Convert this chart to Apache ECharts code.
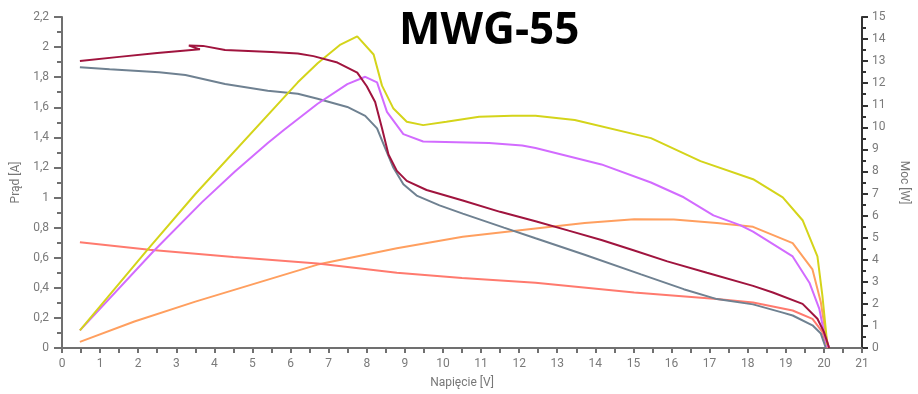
<!DOCTYPE html>
<html>
<head>
<meta charset="utf-8">
<script src="https://cdn.jsdelivr.net/npm/echarts@6/dist/echarts.min.js"></script>
<style>html,body{margin:0;padding:0;background:#fff}#c{width:918px;height:394px}</style>
</head>
<body>
<div id="c"></div>
<script>
// Current curves [A] (left axis)
const redX  = [0.47, 1.5, 2.5, 3.25, 3.62, 3.33, 3.7, 4.28, 5.5, 6.19, 6.6, 7.23, 7.75, 8.0, 8.22, 8.4, 8.57, 8.79, 9.05, 9.57, 10.52, 11.5, 12.43, 13.3, 14.16, 15.0, 15.89, 16.93, 18.14, 18.66, 19.44, 19.83, 20.0, 20.14];
const redY  = [1.908, 1.935, 1.96, 1.978, 1.985, 2.01, 2.008, 1.98, 1.967, 1.958, 1.94, 1.897, 1.83, 1.74, 1.635, 1.46, 1.286, 1.177, 1.111, 1.05, 0.98, 0.905, 0.843, 0.78, 0.718, 0.65, 0.576, 0.5, 0.413, 0.369, 0.293, 0.194, 0.107, 0.0];
const grayX = [0.47, 1.25, 2.55, 3.24, 4.28, 5.4, 6.19, 6.71, 7.49, 7.96, 8.27, 8.48, 8.7, 8.96, 9.31, 9.91, 10.52, 11.6, 12.43, 13.72, 15.2, 16.32, 17.19, 18.14, 18.92, 19.18, 19.7, 19.92, 20.05];
const grayY = [1.866, 1.853, 1.832, 1.814, 1.755, 1.71, 1.69, 1.657, 1.602, 1.543, 1.46, 1.33, 1.198, 1.089, 1.013, 0.948, 0.893, 0.80, 0.729, 0.62, 0.489, 0.391, 0.325, 0.29, 0.235, 0.216, 0.151, 0.096, 0.0];
const salmonX = [0.47, 2.29, 4.5, 6.71, 8.79, 10.5, 12.43, 15.02, 17.19, 18.14, 19.18, 19.7, 19.96, 20.09];
const salmonY = [0.703, 0.653, 0.605, 0.561, 0.50, 0.465, 0.434, 0.369, 0.325, 0.303, 0.249, 0.194, 0.107, 0.0];
// Power curves [W] (right axis)
const yellowX = [0.47, 2.24, 3.5, 6.19, 6.71, 7.31, 7.75, 8.18, 8.4, 8.7, 9.05, 9.48, 10.09, 10.95, 11.82, 12.43, 13.46, 15.46, 16.76, 18.14, 18.92, 19.44, 19.83, 19.96, 20.09];
const yellowY = [0.80, 4.45, 6.98, 12.04, 12.9, 13.75, 14.12, 13.3, 11.89, 10.85, 10.25, 10.1, 10.25, 10.48, 10.52, 10.52, 10.33, 9.51, 8.47, 7.65, 6.83, 5.79, 4.15, 2.37, 0.13];
const violetX = [0.47, 2.42, 3.67, 4.54, 5.41, 5.84, 6.71, 7.49, 7.96, 8.27, 8.53, 8.96, 9.48, 11.21, 12.08, 12.43, 14.16, 15.46, 16.32, 17.1, 17.8, 18.14, 19.18, 19.62, 19.88, 20.0, 20.09];
const violetY = [0.80, 4.42, 6.6, 8.0, 9.3, 9.9, 11.07, 11.96, 12.29, 12.04, 10.7, 9.69, 9.36, 9.29, 9.18, 9.06, 8.32, 7.5, 6.83, 6.01, 5.57, 5.27, 4.15, 2.96, 1.77, 0.73, 0.06];
const orangeX = [0.47, 1.9, 3.5, 6.71, 8.79, 10.52, 12.43, 13.72, 15.02, 16.06, 17.19, 18.14, 19.18, 19.7, 19.92, 20.05, 20.12];
const orangeY = [0.28, 1.2, 2.1, 3.78, 4.52, 5.04, 5.42, 5.67, 5.83, 5.82, 5.67, 5.49, 4.75, 3.56, 2.07, 0.58, 0.06];

const leftTicks = ['0', '0,2', '0,4', '0,6', '0,8', '1', '1,2', '1,4', '1,6', '1,8', '2', '2,2'];

const zip = (xs, ys) => xs.map((x, i) => [x, ys[i]]);
const lbl = {color: '#7a7a7a', fontSize: 12, fontFamily: 'Roboto'};
const nameStyle = {color: '#777', fontSize: 12, fontFamily: 'Roboto'};

const chart = echarts.init(document.getElementById('c'), null, {renderer: 'canvas'});
const mk = (name, xs, ys, color, yi) => ({
  name, type: 'line', yAxisIndex: yi, data: zip(xs, ys), showSymbol: false, symbol: 'none',
  lineStyle: {color, width: 2}, itemStyle: {color}, animation: false, z: 3
});
chart.setOption({
  animation: false,
  title: {text: 'MWG-55', left: 394, top: 4,
    textStyle: {fontFamily: 'Open Sans', fontWeight: 'bold', fontSize: 44, color: '#000'}},
  grid: {left: 62, right: 48, top: 17, bottom: 41, containLabel: false},
  xAxis: {type: 'value', min: 0, max: 21, interval: 1,
    name: 'Napięcie [V]', nameLocation: 'middle', nameGap: 29, nameTextStyle: nameStyle,
    axisLine: {show: true, onZero: false, lineStyle: {color: '#707070', width: 2}},
    axisTick: {show: true, length: 5, lineStyle: {color: '#707070', width: 2}},
    minorTick: {show: true, splitNumber: 2, length: 5, lineStyle: {color: '#707070', width: 2}},
    axisLabel: Object.assign({margin: 10}, lbl),
    splitLine: {show: false}},
  yAxis: [
    {type: 'value', min: 0, max: 2.2, interval: 0.2, position: 'left',
      name: 'Prąd [A]', nameLocation: 'middle', nameGap: 38, nameRotate: 90, nameTextStyle: nameStyle,
      axisLine: {show: true, onZero: false, lineStyle: {color: '#707070', width: 2}},
      axisTick: {show: true, length: 8, lineStyle: {color: '#707070', width: 2}},
      minorTick: {show: true, splitNumber: 2, length: 5, lineStyle: {color: '#707070', width: 2}},
      axisLabel: Object.assign({margin: 13, formatter: (v) => leftTicks[Math.round(v / 0.2)]}, lbl),
      splitLine: {show: false}},
    {type: 'value', min: 0, max: 15, interval: 1, position: 'right',
      name: 'Moc [W]', nameLocation: 'middle', nameGap: 36, nameRotate: -90, nameTextStyle: nameStyle,
      axisLine: {show: true, onZero: false, lineStyle: {color: '#333', width: 2}},
      axisTick: {show: true, length: 6, lineStyle: {color: '#333', width: 2}},
      minorTick: {show: true, splitNumber: 2, length: 4, lineStyle: {color: '#333', width: 2}},
      axisLabel: Object.assign({margin: 10}, lbl),
      splitLine: {show: false}}
  ],
  series: [
    mk('Moc 2', orangeX, orangeY, '#ff9f5f', 1),
    mk('Prąd 3', salmonX, salmonY, '#ff7a6e', 0),
    mk('Prąd 2', grayX, grayY, '#6f8191', 0),
    mk('Moc 3', violetX, violetY, '#d26bff', 1),
    mk('Moc 1', yellowX, yellowY, '#d4d41a', 1),
    mk('Prąd 1', redX, redY, '#a0143e', 0)
  ]
});
</script>
</body>
</html>
